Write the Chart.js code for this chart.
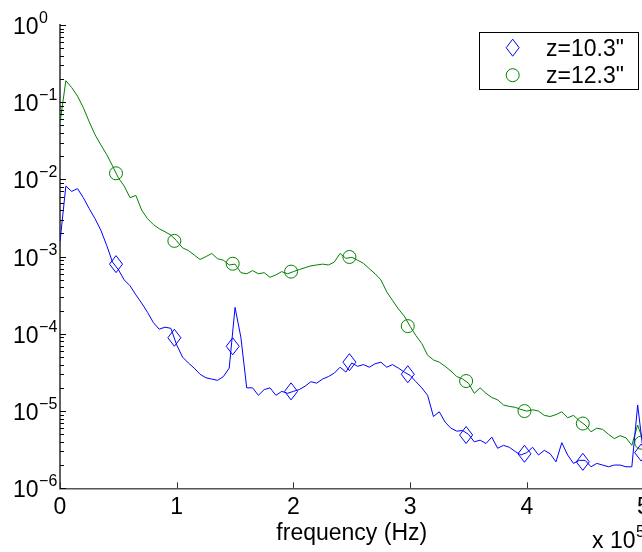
<!DOCTYPE html>
<html><head><meta charset="utf-8">
<script src="https://cdn.jsdelivr.net/npm/chart.js@4"></script>
<style>
html,body{margin:0;padding:0;background:#fff;overflow:hidden;}
#wrap{position:relative;width:660px;height:552px;}
</style></head><body>
<div id="wrap"><canvas id="c" width="660" height="552"></canvas></div>
<script>
// frequency in units of 10^5 Hz
const freq = [
 0.00,0.05,0.10,0.15,0.20,0.25,0.30,0.35,0.40,0.45,
 0.50,0.55,0.60,0.65,0.70,0.75,0.80,0.85,0.90,0.95,
 1.00,1.05,1.10,1.15,1.20,1.25,1.30,1.35,1.40,1.45,
 1.50,1.55,1.60,1.65,1.70,1.75,1.80,1.85,1.90,1.95,
 2.00,2.05,2.10,2.15,2.20,2.25,2.30,2.35,2.40,2.45,
 2.50,2.55,2.60,2.65,2.70,2.75,2.80,2.85,2.90,2.95,
 3.00,3.05,3.10,3.15,3.20,3.25,3.30,3.35,3.40,3.45,
 3.50,3.55,3.60,3.65,3.70,3.75,3.80,3.85,3.90,3.95,
 4.00,4.05,4.10,4.15,4.20,4.25,4.30,4.35,4.40,4.45,
 4.50,4.55,4.60,4.65,4.70,4.75,4.80,4.85,4.90,4.95,
 5.00];
const blueVals = [
 1.56e-3,8.2e-3,7.0e-3,7.6e-3,5.8e-3,4.2e-3,3.1e-3,2.2e-3,1.4e-3,8.5e-4,
 6.8e-4,5.0e-4,4.2e-4,3.2e-4,2.5e-4,1.9e-4,1.4e-4,1.15e-4,1.22e-4,1.18e-4,
 7.2e-5,5.0e-5,4.2e-5,3.6e-5,3.0e-5,2.7e-5,2.6e-5,2.5e-5,2.8e-5,3.6e-5,
 2.2e-4,9.0e-5,2.0e-5,2.0e-5,1.6e-5,1.9e-5,2.0e-5,1.6e-5,1.8e-5,1.7e-5,
 1.8e-5,1.9e-5,2.1e-5,2.4e-5,2.3e-5,2.6e-5,2.8e-5,3.1e-5,3.7e-5,3.2e-5,
 4.2e-5,3.8e-5,4.0e-5,3.7e-5,4.1e-5,4.3e-5,3.7e-5,4.0e-5,3.6e-5,3.2e-5,
 2.9e-5,2.4e-5,2.0e-5,1.6e-5,8.5e-6,9.8e-6,7.2e-6,6.0e-6,5.5e-6,5.6e-6,
 5.0e-6,4.0e-6,4.2e-6,3.8e-6,4.6e-6,3.3e-6,3.6e-6,3.4e-6,3.0e-6,2.7e-6,
 2.9e-6,3.4e-6,2.7e-6,3.1e-6,2.8e-6,2.2e-6,3.9e-6,2.7e-6,2.1e-6,2.3e-6,
 2.3e-6,1.9e-6,2.1e-6,2.0e-6,1.9e-6,2.0e-6,2.0e-6,1.9e-6,1.9e-6,1.2e-5,
 2.8e-6];
const greenVals = [
 5.4e-2,1.9e-1,1.55e-1,1.2e-1,8.5e-2,5.6e-2,3.8e-2,2.8e-2,2.1e-2,1.5e-2,
 1.05e-2,8.2e-3,5.8e-3,6.2e-3,4.0e-3,3.1e-3,2.6e-3,2.3e-3,2.1e-3,1.9e-3,
 1.6e-3,1.3e-3,1.2e-3,1.05e-3,9.2e-4,1.0e-3,1.1e-3,9.4e-4,9.0e-4,7.8e-4,
 8.0e-4,6.2e-4,6.0e-4,6.6e-4,6.0e-4,6.2e-4,5.4e-4,5.8e-4,6.4e-4,6.0e-4,
 6.4e-4,6.8e-4,7.2e-4,7.6e-4,7.8e-4,8.0e-4,7.8e-4,8.5e-4,1.1e-3,9.5e-4,
 9.8e-4,9.0e-4,8.2e-4,7.0e-4,6.0e-4,5.0e-4,3.5e-4,2.7e-4,2.1e-4,1.7e-4,
 1.25e-4,9.5e-5,7.5e-5,5.3e-5,4.6e-5,4.3e-5,3.8e-5,3.3e-5,2.8e-5,2.6e-5,
 2.3e-5,1.7e-5,2.0e-5,1.7e-5,1.5e-5,1.4e-5,1.2e-5,1.15e-5,1.12e-5,1.05e-5,
 1.0e-5,1.04e-5,1.0e-5,8.8e-6,8.5e-6,9.0e-6,9.8e-6,8.2e-6,8.8e-6,7.5e-6,
 6.6e-6,5.4e-6,6.0e-6,5.8e-6,5.0e-6,4.4e-6,4.8e-6,4.5e-6,3.6e-6,6.6e-6,
 4.0e-6];
const markerFreq = [0.48,0.98,1.48,1.98,2.48,2.98,3.48,3.98,4.48,4.98];
const blueMarkers = [8.0e-4,8.9e-5,6.9e-5,1.8e-5,4.3e-5,3.0e-5,4.9e-6,2.8e-6,2.2e-6,2.9e-6];
const greenMarkers = [1.2e-2,1.6e-3,8.1e-4,6.4e-4,9.9e-4,1.26e-4,2.45e-5,1.0e-5,6.9e-6,3.9e-6];
const seriesLabels = ['z=10.3"', 'z=12.3"'];
const xTickLabels = ['0','1','2','3','4','5'];
const yTickExps = [0,-1,-2,-3,-4,-5,-6];
const xAxisTitle = 'frequency (Hz)';
const xMultiplierBase = 'x 10';
const xMultiplierExp = '5';

const FONT = '"Liberation Sans", Arial, Helvetica, sans-serif';
const BLUE = '#0000ff', GREEN = '#008000';

function diamondPath(ctx, cx, cy){
  ctx.beginPath();
  ctx.moveTo(cx, cy-8.5); ctx.lineTo(cx+6.5, cy); ctx.lineTo(cx, cy+8.5); ctx.lineTo(cx-6.5, cy); ctx.closePath();
}

const pts = (xs, ys) => xs.map((x,i)=>({x:x, y:ys[i]}));

// draws the tall diamond marker at the positions the library computed for the marker dataset
const diamondMarkers = {
  id:'diamondMarkers',
  afterDatasetsDraw(chart){
    const ctx = chart.ctx;
    chart.data.datasets.forEach((ds, di)=>{
      if (ds.markerShape !== 'diamond') return;
      const meta = chart.getDatasetMeta(di);
      ctx.save();
      ctx.strokeStyle = ds.borderColor; ctx.lineWidth = 1;
      meta.data.forEach(el=>{ diamondPath(ctx, el.x, el.y); ctx.stroke(); });
      ctx.restore();
    });
  }
};

const axisDecor = {
  id:'axisDecor',
  afterDraw(chart){
    const {ctx, chartArea:a, scales:{x, y}} = chart;
    ctx.save();
    // inward ticks on y axis
    ctx.strokeStyle = '#000'; ctx.lineWidth = 1;
    ctx.beginPath();
    for (const e of yTickExps){
      for (let m=1; m<=9; m++){
        if (e===0 && m>1) break;
        const v = m*Math.pow(10,e);
        const py = Math.round(y.getPixelForValue(v))+0.5;
        const len = (m===1)?6:4;
        ctx.moveTo(a.left, py); ctx.lineTo(a.left+len, py);
      }
    }
    ctx.stroke();
    // inward ticks on x axis
    ctx.strokeStyle = '#333';
    ctx.beginPath();
    for (let i=0;i<xTickLabels.length;i++){
      const px = Math.round(x.getPixelForValue(Number(xTickLabels[i])))+0.5;
      ctx.moveTo(px, a.bottom); ctx.lineTo(px, a.bottom-6);
    }
    ctx.stroke();
    // y labels 10^k
    ctx.fillStyle = '#000';
    ctx.textAlign = 'left'; ctx.textBaseline = 'alphabetic';
    for (const e of yTickExps){
      const py = y.getPixelForValue(Math.pow(10,e));
      ctx.font = '23px ' + FONT;
      ctx.fillText('10', 13, py+9);
      const w = ctx.measureText('10').width;
      ctx.font = '16px ' + FONT;
      ctx.fillText(e===0?'0':'\u2212'+(-e), 13+w+0.5, py-2);
    }
    // multiplier
    ctx.font = '23px ' + FONT;
    ctx.fillText(xMultiplierBase, 592, 548);
    const w2 = ctx.measureText(xMultiplierBase).width;
    ctx.font = '16px ' + FONT;
    ctx.fillText(xMultiplierExp, 592+w2+0.5, 537);
    // legend
    const lx=479.5, ly=32.5, lw=159, lh=57;
    ctx.fillStyle='#fff'; ctx.fillRect(lx,ly,lw,lh);
    ctx.strokeStyle='#000'; ctx.lineWidth=1; ctx.strokeRect(lx,ly,lw,lh);
    const items = [
      {label:seriesLabels[0], color:BLUE, style:'diamond'},
      {label:seriesLabels[1], color:GREEN, style:'circle'}
    ];
    items.forEach((it,i)=>{
      const cy = 47.7 + i*27.5, cx = 512.7;
      ctx.strokeStyle = it.color; ctx.lineWidth = 1;
      if (it.style==='diamond'){
        diamondPath(ctx, cx, cy); ctx.stroke();
      } else {
        ctx.beginPath(); ctx.arc(cx, cy, 6.5, 0, Math.PI*2); ctx.stroke();
      }
      ctx.fillStyle='#000'; ctx.font='23px '+FONT;
      ctx.fillText(it.label, 546, cy+8);
    });
    ctx.restore();
  }
};

new Chart(document.getElementById('c'), {
  type:'line',
  data:{datasets:[
    {label:seriesLabels[0]+' line', data:pts(freq, blueVals), borderColor:BLUE, borderWidth:1, pointRadius:0, fill:false, tension:0},
    {label:seriesLabels[1]+' line', data:pts(freq, greenVals), borderColor:GREEN, borderWidth:1, pointRadius:0, fill:false, tension:0},
    {label:seriesLabels[0], markerShape:'diamond', data:pts(markerFreq, blueMarkers), showLine:false, pointStyle:'rectRot', pointRadius:0, borderColor:BLUE, backgroundColor:'rgba(0,0,0,0)', clip:false},
    {label:seriesLabels[1], data:pts(markerFreq, greenMarkers), showLine:false, pointStyle:'circle', pointRadius:6.5, borderWidth:1, borderColor:GREEN, backgroundColor:'rgba(0,0,0,0)', clip:false}
  ]},
  options:{
    responsive:false, animation:false, events:[],
    layout:{padding:{left:0, top:25, right:16.5, bottom:0}},
    plugins:{legend:{display:false}, tooltip:{enabled:false}},
    scales:{
      x:{type:'linear', min:0, max:5,
        afterFit(s){ s.height = 63.7; },
        ticks:{stepSize:1, autoSkip:false, maxRotation:0, padding:6, color:'#000',
          font:{family:FONT, size:23},
          callback:(v)=>{ const i = xTickLabels.indexOf(String(v)); return i>=0?xTickLabels[i]:''; }},
        grid:{display:false, drawTicks:false},
        border:{display:true, color:'#555', width:1.5},
        title:{display:true, text:xAxisTitle, color:'#000', font:{family:FONT, size:23}, padding:{top:0, bottom:5}}
      },
      y:{type:'logarithmic', min:1e-6, max:1,
        afterFit(s){ s.width = 60; },
        ticks:{display:false},
        grid:{display:false, drawTicks:false},
        border:{display:true, color:'#606060', width:2}
      }
    }
  },
  plugins:[diamondMarkers, axisDecor]
});
</script></body></html>
